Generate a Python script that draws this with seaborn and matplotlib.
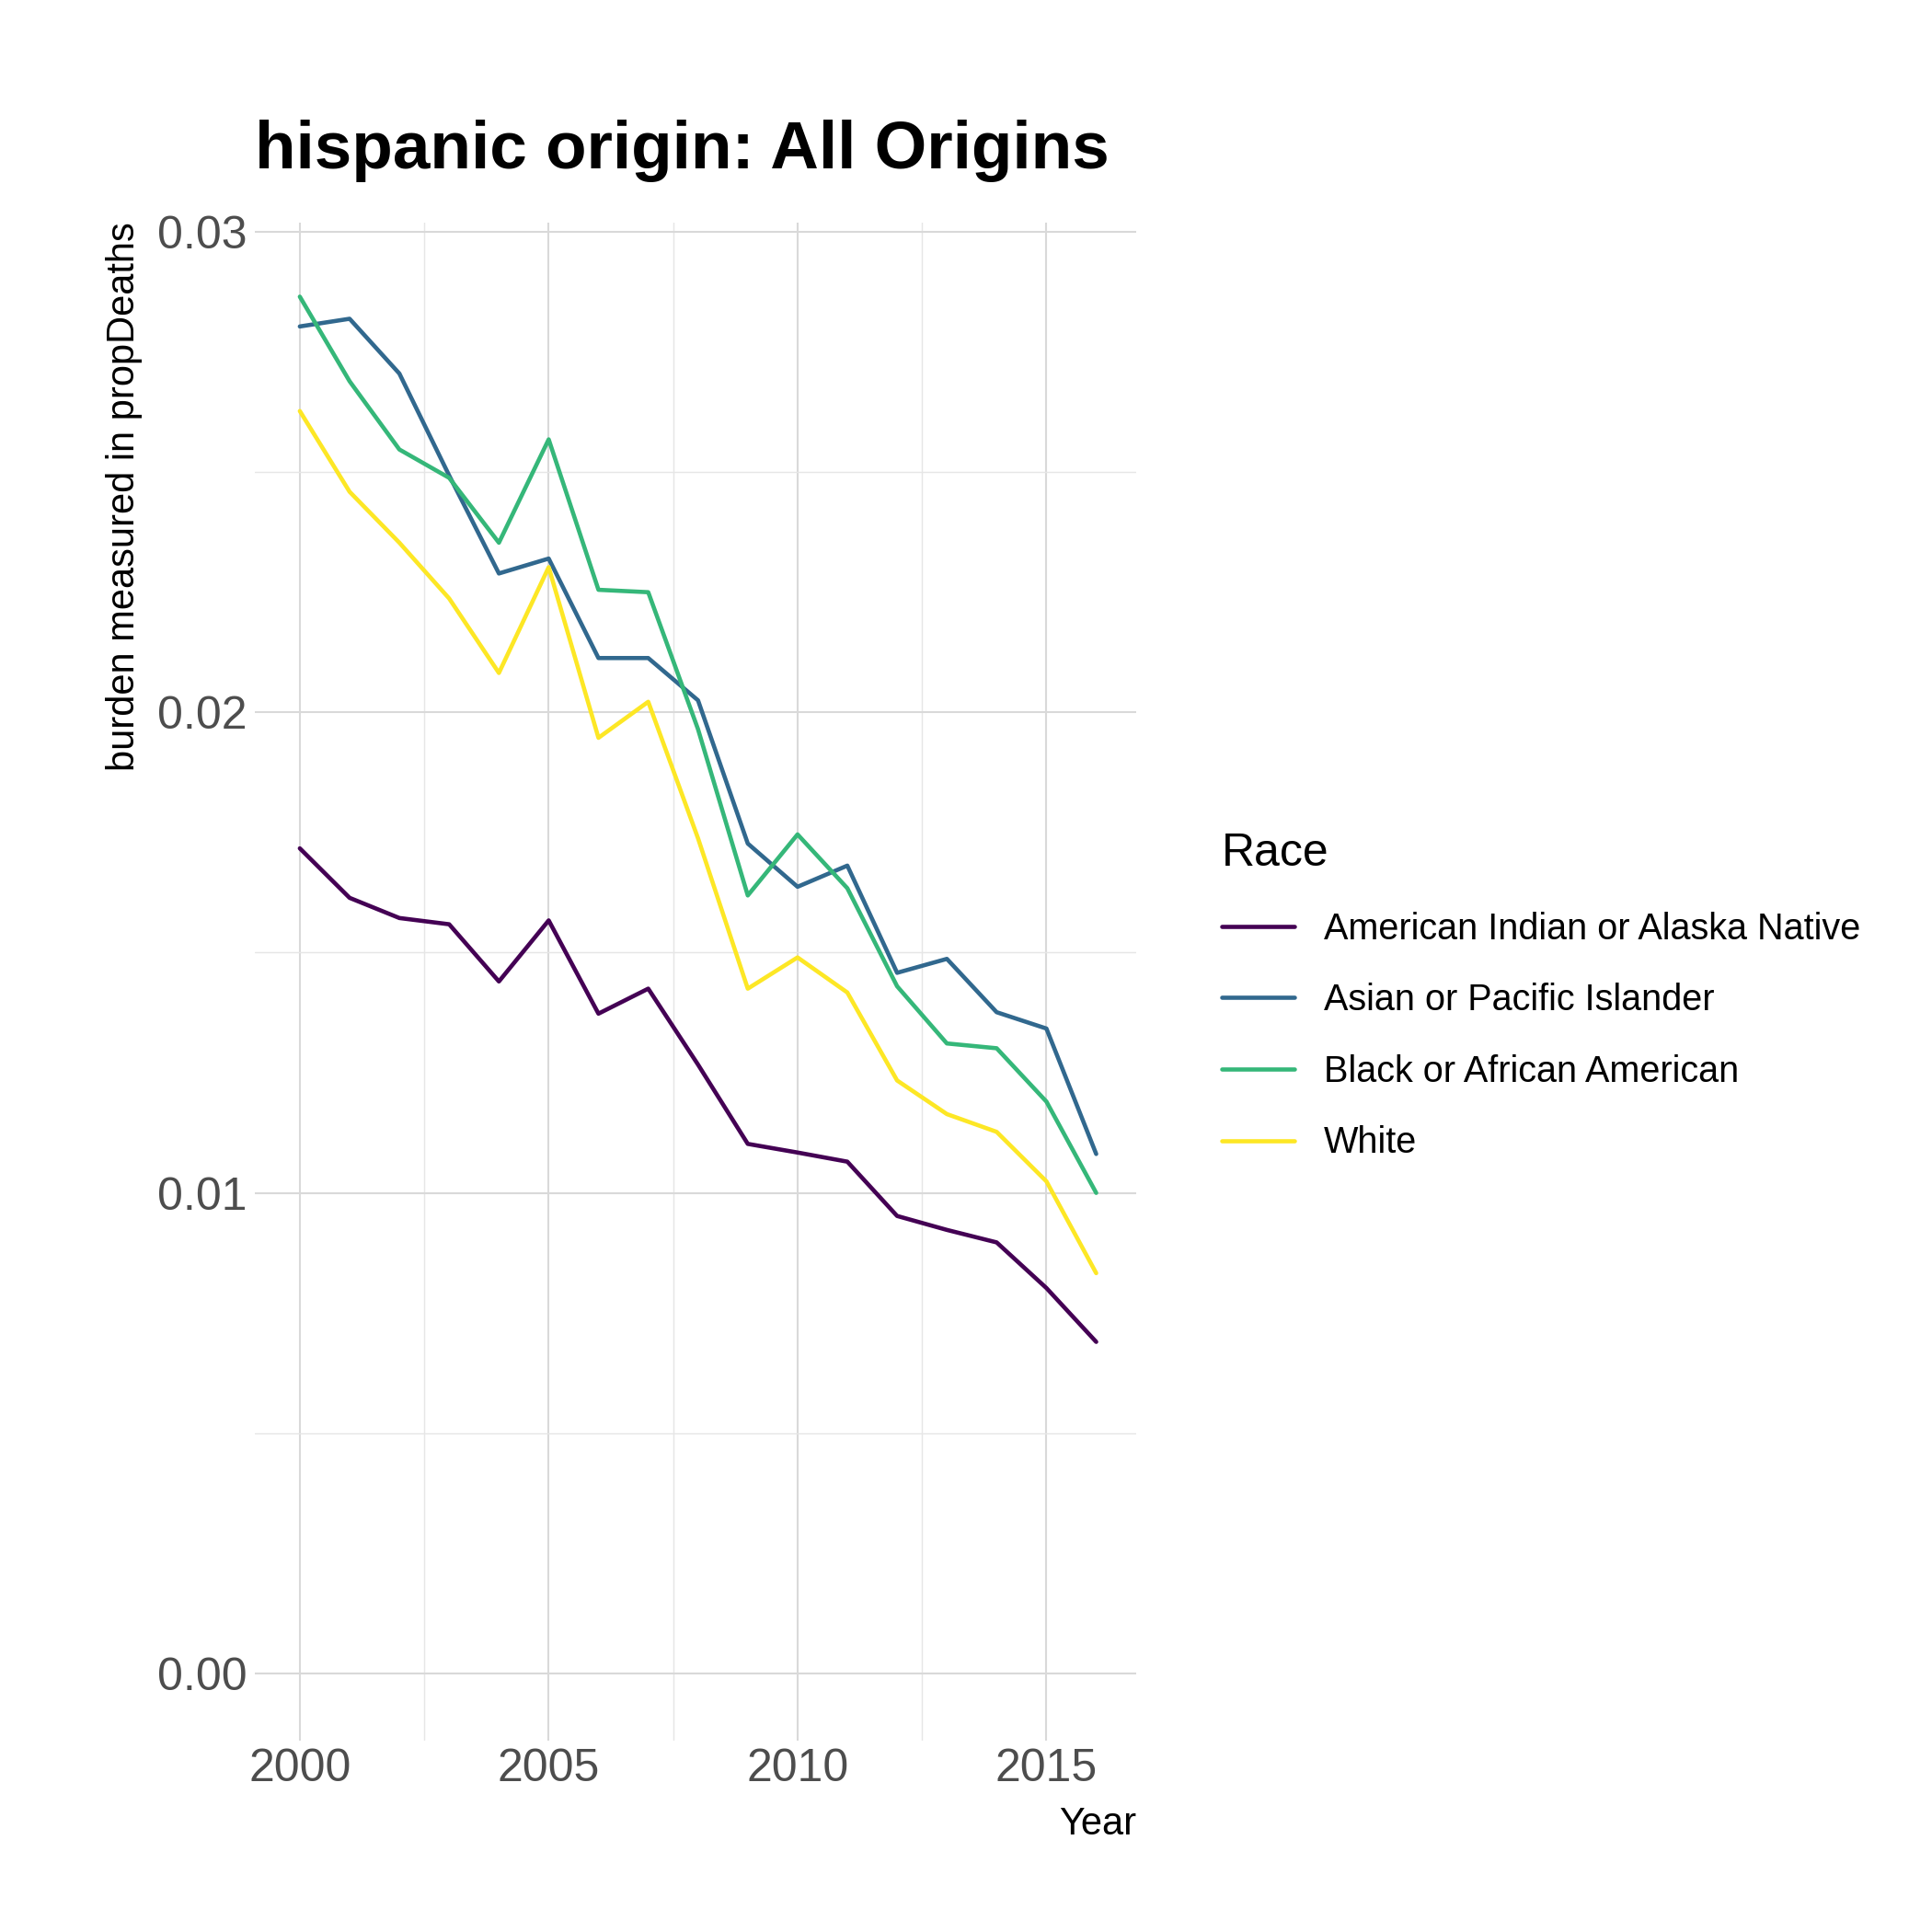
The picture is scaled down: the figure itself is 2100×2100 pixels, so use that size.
import matplotlib
matplotlib.use('Agg')
import numpy as np
import pandas as pd
import matplotlib.pyplot as plt
import seaborn as sns
from matplotlib.ticker import MultipleLocator

sns.set_theme(style="white")
plt.rcParams['font.family'] = ['Liberation Sans', 'DejaVu Sans']

# ── Data ──
years = list(range(2000, 2017))
aian = [0.01717, 0.01614, 0.01572, 0.01559, 0.0144, 0.01567, 0.01373, 0.01425, 0.01267,
        0.01102, 0.01084, 0.01065, 0.00952, 0.00923, 0.00897, 0.00802, 0.0069]
api = [0.02803, 0.02819, 0.02705, 0.02493, 0.02289, 0.0232, 0.02113, 0.02113, 0.02025,
       0.01727, 0.01637, 0.01681, 0.01458, 0.01487, 0.01376, 0.01342, 0.01081]
black = [0.02865, 0.02689, 0.02547, 0.02488, 0.02353, 0.02568, 0.02255, 0.0225, 0.01965,
         0.01619, 0.01746, 0.01634, 0.0143, 0.01311, 0.01301, 0.0119, 0.0100]
white = [0.02627, 0.02459, 0.02353, 0.02237, 0.02082, 0.02302, 0.01947, 0.02022, 0.01738,
         0.01425, 0.0149, 0.01417, 0.01234, 0.01164, 0.01127, 0.01024, 0.00833]
races = ['American Indian or Alaska Native', 'Asian or Pacific Islander',
         'Black or African American', 'White']
colors = ['#440154', '#31688E', '#35B779', '#FDE725']

df = pd.concat([pd.DataFrame({'Year': years, 'value': v, 'Race': r})
                for r, v in zip(races, [aian, api, black, white])])

fig = plt.figure(figsize=(7, 7), dpi=300)
ax = fig.add_axes([0.132, 0.099, 0.456, 0.786])
sns.lineplot(data=df, x='Year', y='value', hue='Race', palette=colors, ax=ax, linewidth=1.1)

ax.set_xlim(1999.1, 2016.8)
ax.set_ylim(-0.0014, 0.0302)
ax.xaxis.set_major_locator(MultipleLocator(5))
ax.xaxis.set_minor_locator(MultipleLocator(2.5))
ax.yaxis.set_major_locator(MultipleLocator(0.01))
ax.yaxis.set_minor_locator(MultipleLocator(0.005))
ax.set_yticks([0, 0.01, 0.02, 0.03])
ax.set_yticklabels(['0.00', '0.01', '0.02', '0.03'])
ax.grid(which='major', color='#D9D9D9', linewidth=0.5)
ax.grid(which='minor', color='#E6E6E6', linewidth=0.35)
for s in ax.spines.values():
    s.set_visible(False)
ax.tick_params(axis='both', which='both', length=0, labelsize=12, labelcolor='#4D4D4D', pad=2)

ax.set_xlabel('Year', fontsize=10, loc='right', color='black')
ax.set_ylabel('burden measured in propDeaths', fontsize=10, loc='top', color='black')
ax.set_title('hispanic origin: All Origins', fontsize=17.5, fontweight='bold', loc='left',
             x=-0.0, pad=14, color='black')

leg = ax.legend(title='Race', loc='center left', bbox_to_anchor=(1.06, 0.49), frameon=False,
                fontsize=9.5, title_fontsize=12, handlelength=2, labelspacing=1.0)
leg._legend_box.align = 'left'
for t in leg.get_texts():
    t.set_color('black')
leg.get_title().set_color('black')

fig.savefig('out.png', dpi=300)
